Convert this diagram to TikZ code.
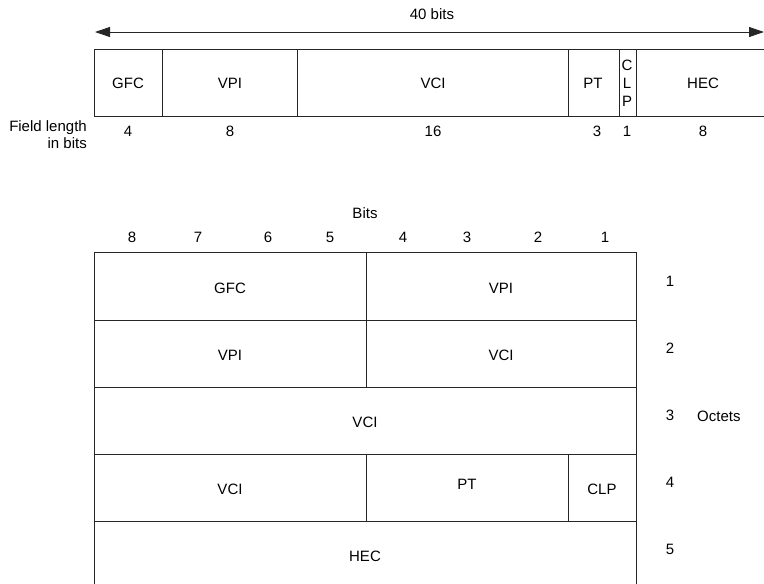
\documentclass[tikz,border=0pt]{standalone}
\usepackage{fontspec}
\setmainfont{Liberation Sans}
\usetikzlibrary{arrows.meta}
\begin{document}
\begin{tikzpicture}[x=1pt,y=-1pt,
  lbl/.style={font=\fontsize{15}{18}\selectfont, inner sep=0pt, text height=10.5pt, text depth=0pt},
  box/.style={draw=black!85, line width=0.9pt},
  dim/.style={draw=black!85, line width=0.9pt, {Triangle[length=15pt,width=10pt]}-{Triangle[length=15pt,width=10pt]}}]
\useasboundingbox (0,0) rectangle (764,584);
% ---------- top: 40 bit header ----------
\coordinate (aL) at (95,32);
\coordinate (aR) at (764,32);
\draw[dim] (aL) -- (aR);
\node[lbl] (tot) at (432,14) {40 bits};
\draw[box] (94,49) rectangle (772,116);
\foreach \x in {162,297,568,619,636} \draw[box] (\x,49) -- (\x,116);
\node[lbl] (tGFC) at (128,83) {GFC};
\node[lbl] (tVPI) at (230,83) {VPI};
\node[lbl] (tVCI) at (433,83) {VCI};
\node[lbl] (tPT)  at (593,83) {PT};
\node[lbl] (tC) at (627,65) {C};
\node[lbl] (tL) at (627,83) {L};
\node[lbl] (tP) at (627,101) {P};
\node[lbl] (tHEC) at (703,83) {HEC};
\node[lbl] (n4)  at (128,131) {4};
\node[lbl] (n8a) at (230,131) {8};
\node[lbl] (n16) at (433,131) {16};
\node[lbl] (n3)  at (597,131) {3};
\node[lbl] (n1)  at (627,131) {1};
\node[lbl] (n8b) at (703,131) {8};
\node[lbl, anchor=east] (fl1) at (87,126) {Field length};
\node[lbl, anchor=east] (fl2) at (87,143) {in bits};
% ---------- bottom: octet layout ----------
\node[lbl] (bits) at (365,213) {Bits};
\node[lbl] (b8) at (132,237) {8};
\node[lbl] (b7) at (198,237) {7};
\node[lbl] (b6) at (268,237) {6};
\node[lbl] (b5) at (330,237) {5};
\node[lbl] (b4) at (403,237) {4};
\node[lbl] (b3) at (467,237) {3};
\node[lbl] (b2) at (538,237) {2};
\node[lbl] (b1) at (605,237) {1};
\draw[box] (94,252) rectangle (636,588);
\foreach \y in {320,387,454,521} \draw[box] (94,\y) -- (636,\y);
\draw[box] (366,252) -- (366,387);
\draw[box] (366,454) -- (366,521);
\draw[box] (568,454) -- (568,521);
\node[lbl] (r1a) at (230,288) {GFC};
\node[lbl] (r1b) at (501,288) {VPI};
\node[lbl] (r2a) at (230,355) {VPI};
\node[lbl] (r2b) at (501,355) {VCI};
\node[lbl] (r3)  at (365,422) {VCI};
\node[lbl] (r4a) at (230,489) {VCI};
\node[lbl] (r4b) at (467,484) {PT};
\node[lbl] (r4c) at (602,489) {CLP};
\node[lbl] (r5)  at (365,556) {HEC};
\node[lbl] (o1) at (670,281) {1};
\node[lbl] (o2) at (670,348) {2};
\node[lbl] (o3) at (670,415) {3};
\node[lbl] (o4) at (670,482) {4};
\node[lbl] (o5) at (670,549) {5};
\node[lbl, anchor=west] (oct) at (697,416) {Octets};
\end{tikzpicture}
\end{document}
